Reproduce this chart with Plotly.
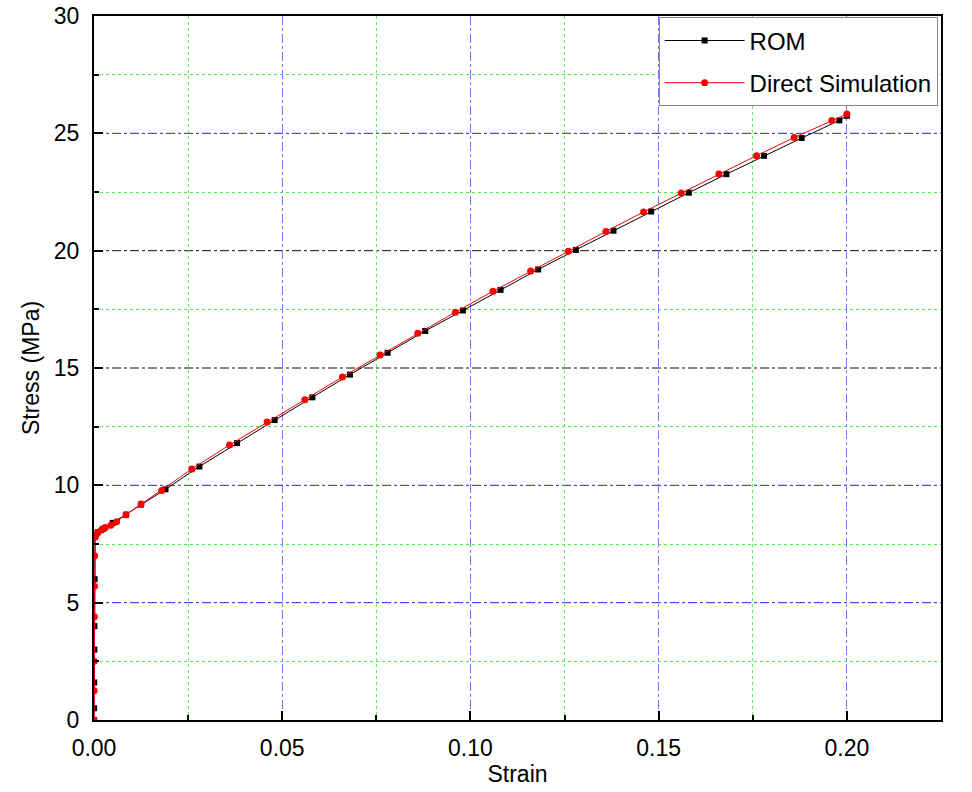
import plotly.graph_objects as go

rom_strain = [0.0, 0.00003, 0.00006, 0.00009, 0.00012, 0.00018, 0.0003, 0.001, 0.0025, 0.005, 0.0085, 0.0125,
              0.019, 0.028, 0.038, 0.048, 0.058, 0.068, 0.078, 0.088, 0.098, 0.108, 0.118,
              0.128, 0.138, 0.148, 0.158, 0.168, 0.178, 0.188, 0.198, 0.2]
rom_stress = [0.0, 0.5, 1.6, 3.0, 4.0, 6.0, 7.85, 8.0, 8.15, 8.4, 8.75, 9.18,
              9.83, 10.8, 11.8, 12.78, 13.75, 14.72, 15.65, 16.58, 17.45, 18.33, 19.2,
              20.03, 20.85, 21.67, 22.47, 23.26, 24.04, 24.8, 25.55, 25.75]

ds_strain = [0.0, 0.00003, 0.00006, 0.0001, 0.00013, 0.00017, 0.0003, 0.0006, 0.001, 0.002, 0.003, 0.0045,
             0.006, 0.0085, 0.0125, 0.018, 0.026, 0.036, 0.046, 0.056, 0.066, 0.076, 0.086,
             0.096, 0.106, 0.116, 0.126, 0.136, 0.146, 0.156, 0.166, 0.176, 0.186, 0.196, 0.2]
ds_stress = [0.0, 1.25, 2.5, 4.4, 5.7, 7.0, 7.8, 7.9, 8.0, 8.1, 8.2, 8.3,
             8.45, 8.75, 9.2, 9.78, 10.7, 11.72, 12.7, 13.65, 14.62, 15.55, 16.48,
             17.38, 18.27, 19.13, 19.98, 20.82, 21.65, 22.46, 23.27, 24.05, 24.82, 25.55, 25.82]

x_ticks = [0.0, 0.05, 0.10, 0.15, 0.20]
x_minor = [0.025, 0.075, 0.125, 0.175, 0.225]
y_ticks = [0, 5, 10, 15, 20, 25, 30]
y_minor = [2.5, 7.5, 12.5, 17.5, 22.5, 27.5]
y_grid_blue = [5, 10, 25]
y_grid_black = [15, 20]

FONT = "Arial, Liberation Sans, sans-serif"

fig = go.Figure()
fig.add_trace(go.Scatter(x=rom_strain, y=rom_stress, mode="lines+markers", name="ROM",
                         legendgroup="a",
                         line=dict(color="black", width=1),
                         marker=dict(symbol="square", size=6, color="black")))
fig.add_trace(go.Scatter(x=ds_strain, y=ds_stress, mode="lines+markers", name="Direct Simulation",
                         legendgroup="b",
                         line=dict(color="red", width=1),
                         marker=dict(symbol="circle", size=7, color="red")))

for yv in y_grid_blue:
    fig.add_shape(type="line", xref="paper", yref="y", x0=0, x1=1, y0=yv, y1=yv,
                  line=dict(color="#2222ee", width=1, dash="dashdot"), layer="below")
for yv in y_grid_black:
    fig.add_shape(type="line", xref="paper", yref="y", x0=0, x1=1, y0=yv, y1=yv,
                  line=dict(color="#111111", width=1, dash="dashdot"), layer="below")

axis_common = dict(showline=True, linecolor="black", linewidth=2, mirror=True,
                   ticks="inside", ticklen=9, tickwidth=2, tickcolor="black",
                   zeroline=False, automargin=False, ticklabeloverflow="allow",
                   tickfont=dict(family=FONT, size=23, color="black"))

fig.update_xaxes(range=[0, 0.225], tickvals=x_ticks, ticktext=[f"{v:.2f}" for v in x_ticks],
                 ticklabelstandoff=6,
                 showgrid=True, gridcolor="#7777ff", gridwidth=1, griddash="dashdot",
                 title=dict(text="Strain", font=dict(family=FONT, size=23, color="black"), standoff=4),
                 minor=dict(tickvals=x_minor, ticks="inside", ticklen=5, tickwidth=2, tickcolor="black",
                            showgrid=True, gridcolor="#66ee66", griddash="dot", gridwidth=1),
                 **axis_common)
fig.update_yaxes(range=[0, 30], tickvals=y_ticks,
                 ticklabelstandoff=8,
                 showgrid=False,
                 title=dict(text="Stress (MPa)", font=dict(family=FONT, size=23, color="black"), standoff=8),
                 minor=dict(tickvals=y_minor, ticks="inside", ticklen=5, tickwidth=2, tickcolor="black",
                            showgrid=True, gridcolor="#44ee44", griddash="dot", gridwidth=1),
                 **axis_common)

fig.update_layout(width=972, height=792, plot_bgcolor="white", paper_bgcolor="white",
                  margin=dict(l=94, r=31, t=16, b=72),
                  legend=dict(x=0.996, y=0.998, xanchor="right", yanchor="top",
                              bordercolor="#888888", borderwidth=1, bgcolor="white",
                              font=dict(family=FONT, size=24, color="black"),
                              itemwidth=80, tracegroupgap=8))
fig.write_html("out.html", config={"displayModeBar": False},
               post_script="document.body.style.margin='0';document.body.style.overflow='hidden';")
